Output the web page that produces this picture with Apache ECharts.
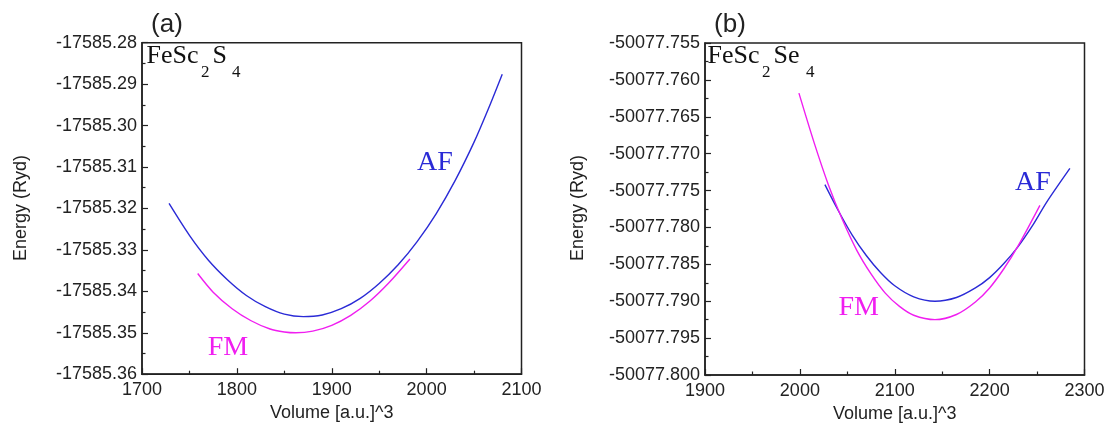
<!DOCTYPE html>
<html>
<head>
<meta charset="utf-8">
<script src="https://cdn.jsdelivr.net/npm/echarts@6/dist/echarts.min.js"></script>
<style>
html,body{margin:0;padding:0;background:#fff;}
#chart{width:1108px;height:429px;}
</style>
</head>
<body>
<div id="chart"></div>
<script>
// ---- Panel (a): FeSc2S4 ----
const volA_AF = [1728.5, 1750, 1770, 1790, 1810, 1830, 1850, 1870, 1890, 1910, 1930, 1950, 1970, 1990, 2010, 2030, 2050, 2065, 2079.7];
const engA_AF = [-17585.3188, -17585.3265, -17585.3325, -17585.3372, -17585.3410, -17585.3437, -17585.3455, -17585.3461, -17585.3457, -17585.3442, -17585.3417, -17585.3381, -17585.3336, -17585.3280, -17585.3213, -17585.3133, -17585.3040, -17585.2960, -17585.2876];
const volA_FM = [1758.7, 1775, 1795, 1815, 1835, 1850, 1862, 1880, 1900, 1920, 1940, 1960, 1982.4];
const engA_FM = [-17585.3357, -17585.3402, -17585.3442, -17585.3471, -17585.3491, -17585.3498, -17585.3500, -17585.3496, -17585.3482, -17585.3458, -17585.3424, -17585.3380, -17585.3322];
// ---- Panel (b): FeSc2Se4 ----
const volB_AF = [2026.4, 2040, 2055, 2070, 2085, 2100, 2120, 2142.4, 2165, 2185, 2200, 2215, 2230, 2245, 2260, 2284.6];
const engB_AF = [-50077.7742, -50077.7776, -50077.7810, -50077.7838, -50077.7861, -50077.7879, -50077.7894, -50077.7900, -50077.7895, -50077.7882, -50077.7868, -50077.7849, -50077.7826, -50077.7798, -50077.7766, -50077.7720];
const volB_FM = [1999, 2015, 2030, 2045, 2060, 2075, 2090, 2105, 2120, 2142.4, 2165, 2185, 2200, 2215, 2230, 2253];
const engB_FM = [-50077.7618, -50077.7685, -50077.7742, -50077.7790, -50077.7831, -50077.7863, -50077.7889, -50077.7907, -50077.7919, -50077.7925, -50077.7918, -50077.7901, -50077.7882, -50077.7856, -50077.7825, -50077.7770];

// axis ranges / tick labels
const xA = {min: 1700, max: 2100, interval: 100};
const yA = {min: -17585.36, max: -17585.28, interval: 0.01, decimals: 2};
const xB = {min: 1900, max: 2300, interval: 100};
const yB = {min: -50077.800, max: -50077.755, interval: 0.005, decimals: 3};

const xTitle = 'Volume [a.u.]^3';
const yTitle = 'Energy (Ryd)';
const seriesNames = ['AF', 'FM'];
const panelTags = ['(a)', '(b)'];

const AF_COLOR = '#2a2ad6';
const FM_COLOR = '#f01ef0';
const AXIS_COLOR = '#222';
const SANS = 'Liberation Sans, Arial, sans-serif';
const SERIF = 'Liberation Serif, Times New Roman, serif';

function pairs(xs, ys){ return xs.map((v,i)=>[v, ys[i]]); }

const grids = [
  {left: 142, top: 42.7, width: 379.5, height: 331.5},
  {left: 705, top: 43, width: 379.5, height: 332}
];

function xAxisCfg(idx, r){
  return {
    type: 'value', gridIndex: idx, min: r.min, max: r.max, interval: r.interval,
    name: xTitle, nameLocation: 'middle', nameGap: 28,
    nameTextStyle: {fontFamily: SANS, fontSize: 18, color: AXIS_COLOR},
    axisLine: {show: true, onZero: false, lineStyle: {color: AXIS_COLOR, width: 1.5}},
    axisTick: {show: true, inside: true, length: 6, lineStyle: {color: AXIS_COLOR, width: 1.2}},
    minorTick: {show: true, splitNumber: 2, length: 3.5, lineStyle: {color: AXIS_COLOR, width: 1.2}},
    axisLabel: {fontFamily: SANS, fontSize: 18, color: AXIS_COLOR, margin: 7,
      formatter: v => String(Math.round(v))},
    splitLine: {show: false}
  };
}
function yAxisCfg(idx, r){
  return {
    type: 'value', gridIndex: idx, min: r.min, max: r.max, interval: r.interval,
    axisLine: {show: true, onZero: false, lineStyle: {color: AXIS_COLOR, width: 1.5}},
    axisTick: {show: true, inside: true, length: 6, lineStyle: {color: AXIS_COLOR, width: 1.2}},
    minorTick: {show: true, splitNumber: 2, length: 3.5, lineStyle: {color: AXIS_COLOR, width: 1.2}},
    axisLabel: {fontFamily: SANS, fontSize: 18, color: AXIS_COLOR, margin: 5,
      formatter: v => v.toFixed(r.decimals)},
    splitLine: {show: false}
  };
}
function lineSeries(name, idx, data, color){
  return {
    name: name, type: 'line', xAxisIndex: idx, yAxisIndex: idx, data: data,
    smooth: 0.3, showSymbol: false, symbol: 'none', silent: true,
    lineStyle: {color: color, width: 1.4}, itemStyle: {color: color}, z: 3
  };
}
function txt(x, y, text, font, color, opts){
  return Object.assign({
    type: 'text', x: x, y: y, silent: true,
    style: {text: text, font: font, fill: color, align: 'left', verticalAlign: 'middle'}
  }, opts || {});
}
function centered(x, y, text, font, color, rot){
  const g = txt(x, y, text, font, color);
  g.style.align = 'center';
  if (rot) g.rotation = rot;
  return g;
}

const chart = echarts.init(document.getElementById('chart'), null, {renderer: 'canvas'});
chart.setOption({
  animation: false,
  backgroundColor: '#fff',
  grid: grids.map(g => Object.assign({show: true, borderColor: AXIS_COLOR, borderWidth: 1.5, backgroundColor: 'transparent', containLabel: false}, g)),
  xAxis: [xAxisCfg(0, xA), xAxisCfg(1, xB)],
  yAxis: [yAxisCfg(0, yA), yAxisCfg(1, yB)],
  series: [
    lineSeries(seriesNames[0], 0, pairs(volA_AF, engA_AF), AF_COLOR),
    lineSeries(seriesNames[1], 0, pairs(volA_FM, engA_FM), FM_COLOR),
    lineSeries(seriesNames[0], 1, pairs(volB_AF, engB_AF), AF_COLOR),
    lineSeries(seriesNames[1], 1, pairs(volB_FM, engB_FM), FM_COLOR)
  ],
  graphic: [
    // panel tags
    centered(167, 25.3, panelTags[0], '26px ' + SANS, AXIS_COLOR),
    centered(730, 25.3, panelTags[1], '26px ' + SANS, AXIS_COLOR),
    // y-axis titles
    centered(21, 208, yTitle, '18px ' + SANS, AXIS_COLOR, Math.PI/2),
    centered(578, 208, yTitle, '18px ' + SANS, AXIS_COLOR, Math.PI/2),
    // FeSc2S4
    txt(146.5, 56.2, 'FeSc', '26px ' + SERIF, '#111'),
    txt(201, 72.6, '2', '17px ' + SERIF, '#111'),
    txt(212.5, 56.2, 'S', '26px ' + SERIF, '#111'),
    txt(232, 72.6, '4', '17px ' + SERIF, '#111'),
    // FeSc2Se4
    txt(707.5, 56.2, 'FeSc', '26px ' + SERIF, '#111'),
    txt(762, 72.6, '2', '17px ' + SERIF, '#111'),
    txt(773.5, 56.2, 'Se', '26px ' + SERIF, '#111'),
    txt(806, 72.6, '4', '17px ' + SERIF, '#111'),
    // curve labels
    centered(435, 162.5, seriesNames[0], '28px ' + SERIF, AF_COLOR),
    centered(228, 348, seriesNames[1], '28px ' + SERIF, FM_COLOR),
    centered(1033, 182.5, seriesNames[0], '28px ' + SERIF, AF_COLOR),
    centered(858.7, 307.8, seriesNames[1], '28px ' + SERIF, FM_COLOR)
  ]
});
</script>
</body>
</html>
